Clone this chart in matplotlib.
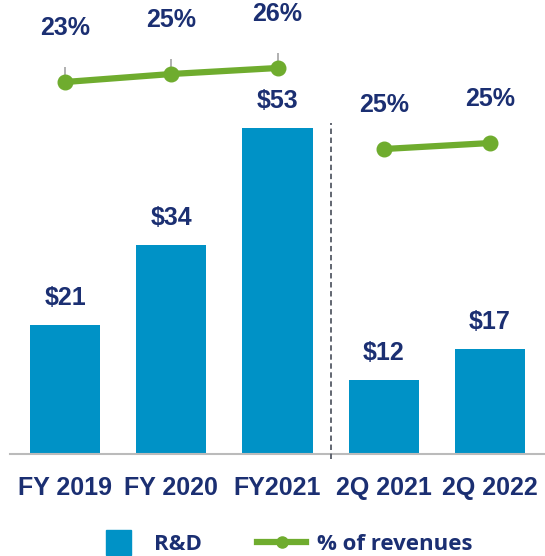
import matplotlib
matplotlib.use("Agg")
import matplotlib.pyplot as plt
from matplotlib.lines import Line2D

categories = ["FY 2019", "FY 2020", "FY2021", "2Q 2021", "2Q 2022"]
rd_values = [21, 34, 53, 12, 17]
rd_labels = ["$21", "$34", "$53", "$12", "$17"]
pct_fy = [23.0, 24.6, 25.8]
pct_fy_labels = ["23%", "25%", "26%"]
pct_q = [24.7, 25.4]
pct_q_labels = ["25%", "25%"]

NAVY = "#1B2F72"
BLUE = "#0092C6"
GREEN = "#6FAC2E"

plt.rcParams['font.family'] = ['Liberation Sans', 'DejaVu Sans']

fig = plt.figure(figsize=(5.45, 5.56), dpi=100)
fig.patch.set_facecolor("white")
ax = fig.add_axes([10/545, (556-454)/556, 535/545, 454/556])
ax.set_facecolor("none")

x = list(range(len(categories)))
ax.bar(x, rd_values, width=0.66, color=BLUE, zorder=2)
for xi, v, lab in zip(x, rd_values, rd_labels):
    ax.annotate(lab, (xi, v), xytext=(0, 11), textcoords="offset points",
                ha="center", va="bottom", fontsize=18, fontweight="bold", color=NAVY)

ax.set_xlim(-0.52, 4.52)
ax.set_ylim(0, 73.8)
for s in ["top", "right", "left"]:
    ax.spines[s].set_visible(False)
ax.spines["bottom"].set_color("#BBBBBB")
ax.spines["bottom"].set_linewidth(1.5)
ax.set_yticks([])
ax.set_xticks(x)
ax.set_xticklabels(categories, fontsize=18, fontweight="bold", color=NAVY)
ax.tick_params(axis="x", length=0, pad=16)

# dashed separator
ax.axvline(2.5, ymin=-0.012, ymax=0.73, color="#555A66", linestyle=(0, (3, 2)),
           linewidth=1.3, clip_on=False, zorder=3)

# percentage line FY (5 px per unit)
ax2 = ax.twinx()
ax2.set_ylim(-51.4, 39.4)
ax2.axis("off")
fy_x = x[:3]
ax2.errorbar(fy_x, pct_fy, yerr=[[0]*3, [3.0]*3], fmt="none", ecolor="#AAAAAA",
             elinewidth=1.3, capsize=0, zorder=2)
ax2.plot(fy_x, pct_fy, color=GREEN, linewidth=4.5, marker="o", markersize=10.5,
         zorder=3, solid_capstyle="round")
for xi, v, lab in zip(fy_x, pct_fy, pct_fy_labels):
    ax2.annotate(lab, (xi, v), xytext=(0, 30), textcoords="offset points",
                 ha="center", va="bottom", fontsize=18, fontweight="bold", color=NAVY)

# percentage line Q
ax3 = ax.twinx()
ax3.set_ylim(-10.88, 42.09)
ax3.axis("off")
q_x = x[3:]
ax3.plot(q_x, pct_q, color=GREEN, linewidth=4.5, marker="o", markersize=10.5,
         zorder=3, solid_capstyle="round")
for xi, v, lab in zip(q_x, pct_q, pct_q_labels):
    ax3.annotate(lab, (xi, v), xytext=(0, 23), textcoords="offset points",
                 ha="center", va="bottom", fontsize=18, fontweight="bold", color=NAVY)

handles = [Line2D([0], [0], color=BLUE, marker="s", markersize=18, linestyle="none"),
           Line2D([0], [0], color=GREEN, linewidth=4.5, marker="o", markersize=8)]
leg = fig.legend(handles, ["R&D", "% of revenues"], loc="center",
                 bbox_to_anchor=(0.52, 12/556), ncol=2, frameon=False,
                 prop={"family": ["Open Sans", "DejaVu Sans"], "weight": "bold", "size": 16},
                 handlelength=2.2, columnspacing=2.5, handletextpad=0.5)
for t in leg.get_texts():
    t.set_color(NAVY)

fig.savefig("out.png", dpi=100, facecolor="white")
